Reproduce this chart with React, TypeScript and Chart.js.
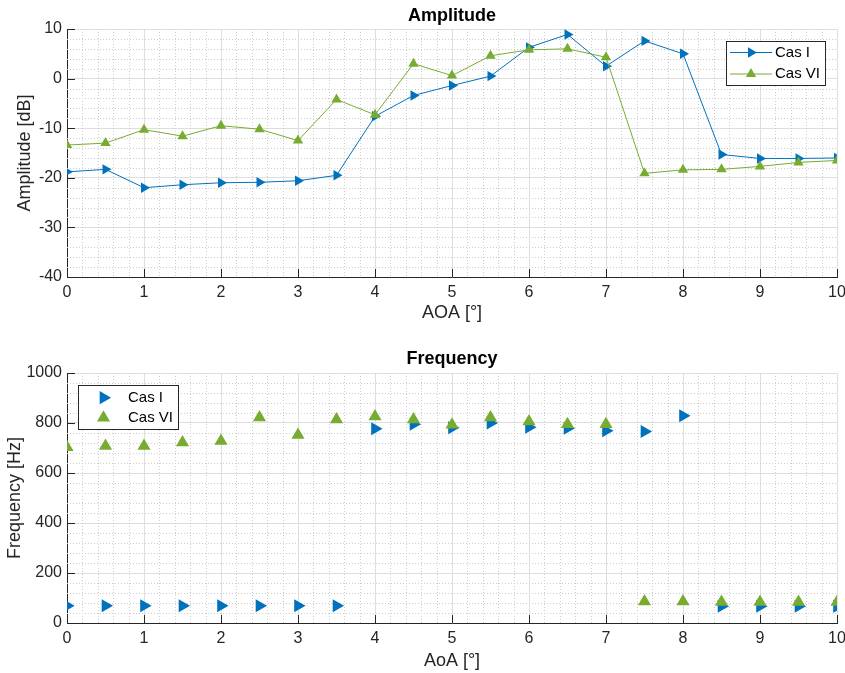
import React, { useEffect, useRef } from 'react';
import { Chart, registerables } from 'chart.js';

Chart.register(...registerables);

// ---------- data ----------
const aoa = [0, 0.5, 1, 1.5, 2, 2.5, 3, 3.5, 4, 4.5, 5, 5.5, 6, 6.5, 7, 7.5, 8, 8.5, 9, 9.5, 10];

const ampCasI = [-18.8, -18.3, -22.0, -21.4, -21.0, -20.9, -20.6, -19.5, -7.6, -3.4, -1.4, 0.5, 6.3, 8.9, 2.5, 7.6, 5.0, -15.3, -16.1, -16.1, -16.0];
const ampCasVI = [-13.4, -13.0, -10.3, -11.6, -9.5, -10.2, -12.5, -4.2, -7.3, 3.0, 0.6, 4.6, 5.8, 6.0, 4.3, -19.1, -18.4, -18.3, -17.7, -16.9, -16.5];

const freqCasI = [69, 69, 69, 69, 69, 69, 69, 69, 777, 795, 781, 800, 783, 779, 769, 766, 829, 67, 67, 67, 67];
const freqCasVI = [703, 708, 708, 722, 728, 822, 752, 814, 826, 814, 793, 822, 806, 795, 795, 86, 86, 84, 84, 84, 84];

const seriesNames = ['Cas I', 'Cas VI'];
const ampTitle = 'Amplitude';
const freqTitle = 'Frequency';
const ampXLabel = 'AOA [°]';
const freqXLabel = 'AoA [°]';
const ampYLabel = 'Amplitude [dB]';
const freqYLabel = 'Frequency [Hz]';

// ---------- styles ----------
const BLUE = '#0072BD';
const GREEN = '#77AC30';
const AXIS = '#262626';
const FONT = '"Liberation Sans", Arial, Helvetica, sans-serif';

function tri(ctx: CanvasRenderingContext2D, x: number, y: number, r: number, rotDeg: number, color: string) {
  let rad = (rotDeg * Math.PI) / 180;
  ctx.beginPath();
  ctx.moveTo(x + Math.sin(rad) * r, y - Math.cos(rad) * r);
  rad += (2 * Math.PI) / 3;
  ctx.lineTo(x + Math.sin(rad) * r, y - Math.cos(rad) * r);
  rad += (2 * Math.PI) / 3;
  ctx.lineTo(x + Math.sin(rad) * r, y - Math.cos(rad) * r);
  ctx.closePath();
  ctx.fillStyle = color;
  ctx.fill();
}

const decorPlugin = {
  id: 'matlabDecor',
  beforeDatasetsDraw(chart: any, _args: any, opts: any) {
    const { ctx, chartArea } = chart;
    const { left, right, top, bottom } = chartArea;
    const xs = chart.scales.x;
    const ys = chart.scales.y;
    ctx.save();
    // minor grid
    ctx.strokeStyle = '#cdcdcd';
    ctx.lineWidth = 1;
    ctx.setLineDash([1, 2]);
    const nx = Math.round((xs.max - xs.min) / opts.xMinor);
    for (let i = 1; i < nx; i++) {
      if (i % opts.minorPerMajor === 0) continue;
      const px = Math.round(xs.getPixelForValue(xs.min + i * opts.xMinor)) + 0.5;
      ctx.beginPath();
      ctx.moveTo(px, top);
      ctx.lineTo(px, bottom);
      ctx.stroke();
    }
    const ny = Math.round((ys.max - ys.min) / opts.yMinor);
    for (let i = 1; i < ny; i++) {
      if (i % opts.minorPerMajor === 0) continue;
      const py = Math.round(ys.getPixelForValue(ys.min + i * opts.yMinor)) + 0.5;
      ctx.beginPath();
      ctx.moveTo(left, py);
      ctx.lineTo(right, py);
      ctx.stroke();
    }
    ctx.setLineDash([]);
    // inward ticks
    ctx.strokeStyle = AXIS;
    ctx.lineWidth = 1;
    xs.ticks.forEach((t: any) => {
      const px = Math.round(xs.getPixelForValue(t.value)) + 0.5;
      ctx.beginPath();
      ctx.moveTo(px, bottom);
      ctx.lineTo(px, bottom - 8);
      ctx.stroke();
    });
    ys.ticks.forEach((t: any) => {
      const py = Math.round(ys.getPixelForValue(t.value)) + 0.5;
      ctx.beginPath();
      ctx.moveTo(left, py);
      ctx.lineTo(left + 8, py);
      ctx.stroke();
    });
    // title
    ctx.fillStyle = '#000';
    ctx.font = `bold 18px ${FONT}`;
    ctx.textAlign = 'center';
    ctx.textBaseline = 'middle';
    ctx.fillText(opts.title, (left + right) / 2, opts.titleY);
    ctx.restore();
  },
  afterDatasetsDraw(chart: any, _args: any, opts: any) {
    const { ctx, chartArea } = chart;
    const lg = opts.legend;
    const bx = lg.anchorRight ? chartArea.right - lg.dx - lg.w : chartArea.left + lg.dx;
    const by = chartArea.top + lg.dy;
    ctx.save();
    ctx.fillStyle = '#fff';
    ctx.fillRect(bx, by, lg.w, lg.h);
    ctx.strokeStyle = AXIS;
    ctx.lineWidth = 1;
    ctx.strokeRect(Math.round(bx) + 0.5, Math.round(by) + 0.5, lg.w, lg.h);
    lg.entries.forEach((e: any, i: number) => {
      const ry = by + lg.rows[i];
      if (lg.showLine) {
        ctx.strokeStyle = e.color;
        ctx.lineWidth = 1;
        ctx.beginPath();
        ctx.moveTo(bx + lg.lineX0, ry);
        ctx.lineTo(bx + lg.lineX1, ry);
        ctx.stroke();
      }
      tri(ctx, bx + lg.markerX, ry, lg.r, e.rot, e.color);
      ctx.fillStyle = '#000';
      ctx.font = `15px ${FONT}`;
      ctx.textAlign = 'left';
      ctx.textBaseline = 'middle';
      ctx.fillText(e.label, bx + lg.textX, ry);
    });
    ctx.restore();
  },
};

function makeConfig(kind: 'amp' | 'freq'): any {
  const isAmp = kind === 'amp';
  const r = isAmp ? 6 : 7.6;
  const dataI = (isAmp ? ampCasI : freqCasI).map((v, i) => ({ x: aoa[i], y: v }));
  const dataVI = (isAmp ? ampCasVI : freqCasVI).map((v, i) => ({ x: aoa[i], y: v }));
  const chartTop = isAmp ? 29 : 36;
  const xAxisH = isAmp ? 59 : 50;
  return {
    type: 'line',
    data: {
      datasets: [
        {
          label: seriesNames[0],
          data: dataI,
          borderColor: BLUE,
          backgroundColor: BLUE,
          borderWidth: 1,
          showLine: isAmp,
          pointStyle: 'triangle',
          rotation: 90,
          pointRadius: r,
          pointBorderWidth: 0,
          pointBackgroundColor: BLUE,
          pointBorderColor: BLUE,
          order: 2,
        },
        {
          label: seriesNames[1],
          data: dataVI,
          borderColor: GREEN,
          backgroundColor: GREEN,
          borderWidth: 1,
          showLine: isAmp,
          pointStyle: 'triangle',
          rotation: 0,
          pointRadius: r,
          pointBorderWidth: 0,
          pointBackgroundColor: GREEN,
          pointBorderColor: GREEN,
          order: 1,
        },
      ],
    },
    options: {
      responsive: false,
      animation: false,
      events: [],
      layout: { padding: { top: chartTop, right: 8, left: 0, bottom: 0 } },
      elements: { line: { tension: 0 } },
      scales: {
        x: {
          type: 'linear',
          min: 0,
          max: 10,
          afterFit: (s: any) => {
            s.height = xAxisH;
            s.paddingRight = 8;
            s.paddingLeft = 0;
          },
          ticks: {
            stepSize: 1,
            color: AXIS,
            font: { family: FONT, size: 16 },
            padding: 6,
            maxRotation: 0,
            callback: (v: any) => String(v),
          },
          grid: { color: '#dedede', lineWidth: 1, drawTicks: false },
          border: { display: true, color: AXIS, width: 1 },
          title: {
            display: true,
            text: isAmp ? ampXLabel : freqXLabel,
            color: AXIS,
            font: { family: FONT, size: 18 },
            padding: { top: 0, bottom: isAmp ? 12 : 1 },
          },
        },
        y: {
          type: 'linear',
          min: isAmp ? -40 : 0,
          max: isAmp ? 10 : 1000,
          afterFit: (s: any) => {
            s.width = 67;
          },
          ticks: {
            stepSize: isAmp ? 10 : 200,
            color: AXIS,
            font: { family: FONT, size: 16 },
            padding: 5,
            callback: (v: any) => String(v),
          },
          grid: { color: '#dedede', lineWidth: 1, drawTicks: false },
          border: { display: true, color: AXIS, width: 1 },
          title: {
            display: true,
            text: isAmp ? ampYLabel : freqYLabel,
            color: AXIS,
            font: { family: FONT, size: 18 },
            padding: { top: isAmp ? 14.5 : 4, bottom: 0 },
          },
        },
      },
      plugins: {
        legend: { display: false },
        tooltip: { enabled: false },
        matlabDecor: {
          title: isAmp ? ampTitle : freqTitle,
          titleY: isAmp ? 16 : 22,
          xMinor: 0.2,
          yMinor: isAmp ? 2 : 40,
          minorPerMajor: 5,
          legend: isAmp
            ? {
                anchorRight: true,
                dx: 12,
                dy: 12,
                w: 99,
                h: 44,
                rows: [11.5, 33],
                showLine: true,
                lineX0: 4,
                lineX1: 46,
                markerX: 25,
                textX: 49,
                r: 6,
                entries: [
                  { label: seriesNames[0], color: BLUE, rot: 90 },
                  { label: seriesNames[1], color: GREEN, rot: 0 },
                ],
              }
            : {
                anchorRight: false,
                dx: 11,
                dy: 12,
                w: 100,
                h: 44,
                rows: [12.7, 32.8],
                showLine: false,
                markerX: 25.5,
                textX: 50,
                r: 7.6,
                entries: [
                  { label: seriesNames[0], color: BLUE, rot: 90 },
                  { label: seriesNames[1], color: GREEN, rot: 0 },
                ],
              },
        },
      },
    },
    plugins: [decorPlugin],
  };
}

function ChartCanvas({ kind, top }: { kind: 'amp' | 'freq'; top: number }) {
  const ref = useRef<HTMLCanvasElement | null>(null);
  useEffect(() => {
    if (!ref.current) return;
    const chart = new Chart(ref.current, makeConfig(kind));
    return () => chart.destroy();
  }, [kind]);
  return (
    <canvas
      ref={ref}
      width={845}
      height={336}
      style={{ position: 'absolute', left: 0, top, width: 845, height: 336, display: 'block' }}
    />
  );
}

export default function App() {
  return (
    <div style={{ position: 'absolute', left: 0, top: 0, width: 845, height: 673, background: '#fff' }}>
      <ChartCanvas kind="amp" top={0} />
      <ChartCanvas kind="freq" top={337} />
    </div>
  );
}
